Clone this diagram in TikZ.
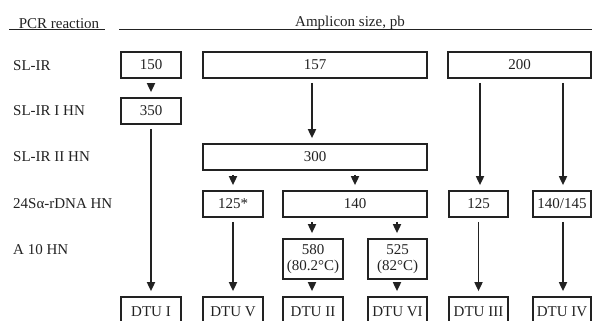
\documentclass[tikz,border=0pt]{standalone}
\usepackage{fontspec}
\setmainfont{Liberation Serif}
\usetikzlibrary{arrows.meta}
\definecolor{ink}{HTML}{222222}
\begin{document}
\begin{tikzpicture}[x=1pt,y=-1pt,
  every node/.style={font=\fontsize{15}{17}\selectfont, text=ink},
  box/.style={draw=ink, line width=1.7pt, inner sep=0pt, minimum height=26pt},
  tallbox/.style={box, minimum height=40pt, align=center},
  dtu/.style={box, minimum height=30pt},
  rowlabel/.style={anchor=west, inner sep=0pt},
  conn/.style={draw=ink, line width=1.7pt, shorten <=4pt, shorten >=5pt,
    -{Triangle[length=9pt,width=8pt]}},
  rule/.style={draw=ink, line width=1.3pt}]
\useasboundingbox (0,0) rectangle (592,321);
\clip (0,0) rectangle (592,321);

% header
\node (hpcr) at (59,23.5) {PCR reaction};
\node (hamp) at (350,22.5) {Amplicon size, pb};
\draw[rule] (9,29.5) -- (105,29.5);
\draw[rule] (119,29.5) -- (592,29.5);

% row labels
\node[rowlabel] (r1) at (13,66) {SL-IR};
\node[rowlabel] (r2) at (13,111) {SL-IR I HN};
\node[rowlabel] (r3) at (13,157) {SL-IR II HN};
\node[rowlabel] (r4) at (13,204) {24Sα-rDNA HN};
\node[rowlabel] (r5) at (13,250) {A 10 HN};

% boxes
\node[box, minimum width=60pt] (b150) at (151,65) {150};
\node[box, minimum width=224pt] (b157) at (315,65) {157};
\node[box, minimum width=143pt] (b200) at (519.5,65) {200};
\node[box, minimum width=60pt] (b350) at (151,111) {350};
\node[box, minimum width=224pt] (b300) at (315,157) {300};
\node[box, minimum width=60pt] (b125s) at (233,204) {125*};
\node[box, minimum width=144pt] (b140) at (355,204) {140};
\node[box, minimum width=59pt] (b125) at (478.5,204) {125};
\node[box, minimum width=58pt] (b140145) at (562,204) {140/145};
\node[tallbox, minimum width=60pt] (b580) at (313,259) {580\\[-1pt](80.2°C)};
\node[tallbox, minimum width=59pt] (b525) at (397.5,259) {525\\[-1pt](82°C)};

% DTU boxes
\node[dtu, minimum width=60pt] (d1) at (151,312) {DTU I};
\node[dtu, minimum width=60pt] (d5) at (233,312) {DTU V};
\node[dtu, minimum width=60pt] (d2) at (313,312) {DTU II};
\node[dtu, minimum width=59pt] (d6) at (397.5,312) {DTU VI};
\node[dtu, minimum width=59pt] (d3) at (478.5,312) {DTU III};
\node[dtu, minimum width=58pt] (d4) at (562,312) {DTU IV};

% column anchors
\coordinate (xa) at (312,0);
\coordinate (xb) at (397,0);
\coordinate (xc) at (480,0);
\coordinate (xd) at (563,0);
\coordinate (xe) at (355,0);

% connectors
\draw[conn] (b150.south) -- (b350.north);
\draw[conn] (b350.south) -- (d1.north);
\draw[conn] (b157.south -| xa) -- (b300.north -| xa);
\draw[conn] (b200.south -| xc) -- (b125.north -| xc);
\draw[conn] (b200.south -| xd) -- (b140145.north -| xd);
\draw[conn] (b300.south -| b125s) -- (b125s.north);
\draw[conn] (b300.south -| xe) -- (b140.north -| xe);
\draw[conn] (b140.south -| xa) -- (b580.north -| xa);
\draw[conn] (b140.south -| xb) -- (b525.north -| xb);
\draw[conn] (b125s.south) -- (d5.north);
\draw[conn] (b580.south -| xa) -- (d2.north -| xa);
\draw[conn] (b525.south -| xb) -- (d6.north -| xb);
\draw[conn] (b125.south) -- (d3.north);
\draw[conn] (b140145.south -| xd) -- (d4.north -| xd);
\end{tikzpicture}
\end{document}
